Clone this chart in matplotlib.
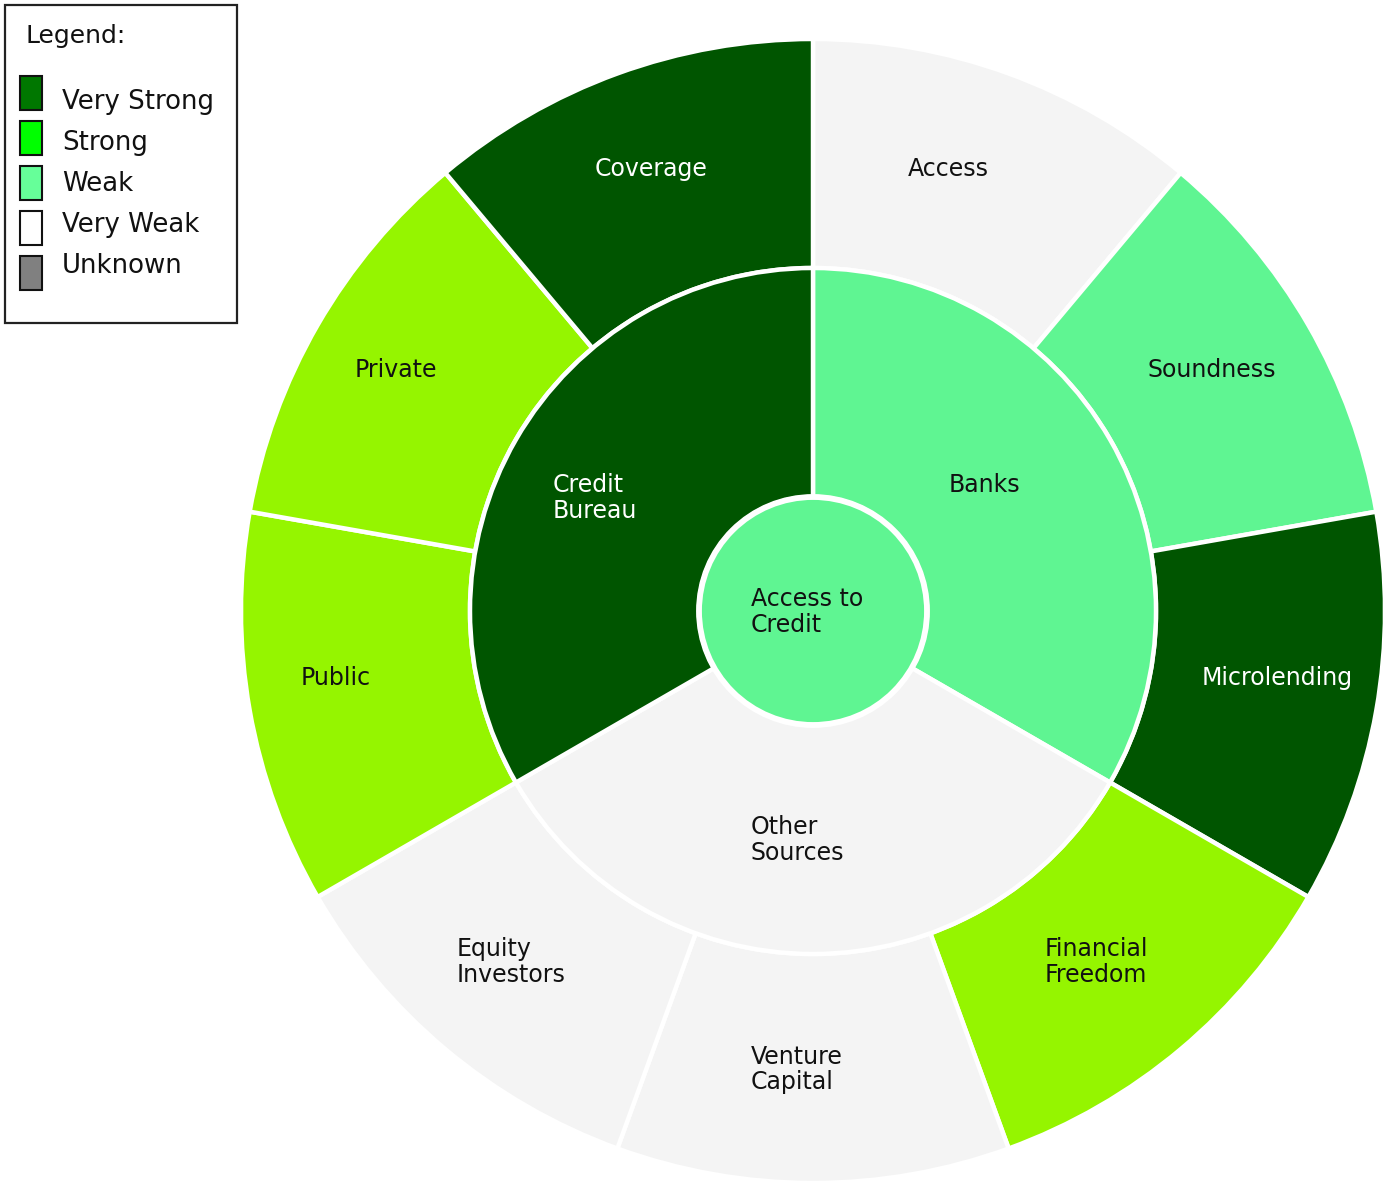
import numpy as np
import matplotlib.pyplot as plt
from matplotlib.patches import Wedge, Circle, Rectangle

# hierarchy: root -> inner ring -> outer ring (clockwise from 12 o'clock)
root_label = "Access to\nCredit"
root_color = "#5ff592"

inner_labels = ["Banks", "Other\nSources", "Credit\nBureau"]
inner_colors = ["#5ff592", "#f4f4f4", "#005500"]

outer_parent = [0, 0, 0, 1, 1, 1, 2, 2, 2]
outer_labels = ["Access", "Soundness", "Microlending",
                "Financial\nFreedom", "Venture\nCapital", "Equity\nInvestors",
                "Public", "Private", "Coverage"]
outer_values = [1, 1, 1, 1, 1, 1, 1, 1, 1]
outer_colors = ["#f4f4f4", "#5ff592", "#005500",
                "#95f500", "#f4f4f4", "#f4f4f4",
                "#95f500", "#95f500", "#005500"]

legend_labels = ["Very Strong", "Strong", "Weak", "Very Weak", "Unknown"]
legend_colors = ["#007700", "#00ff00", "#66ff99", "#ffffff", "#808080"]

W, H = 1387, 1184
fig = plt.figure(figsize=(W / 100, H / 100), dpi=100)
ax = fig.add_axes([0, 0, 1, 1])
ax.set_xlim(0, W)
ax.set_ylim(H, 0)
ax.set_aspect("equal")
ax.axis("off")

cx, cy = 813, 611
r0, r1, r2 = 114, 343, 572
edge_lw = 3.2
font = "DejaVu Sans"
fs = 17


def text_color(c):
    return "white" if c == "#005500" else "#111111"


def put_label(alpha, r, txt, color):
    # alpha: screen angle clockwise from top (degrees)
    a = np.radians(alpha)
    px = cx + r * np.sin(a)
    py = cy - r * np.cos(a)
    ax.text(px - 62, py - 24, txt, ha="left", va="top", fontsize=fs,
            color=text_color(color), family=font, linespacing=1.1)


def draw_wedge(a1, a2, r_out, width, color):
    # data y is inverted, so theta = alpha - 90 runs clockwise on screen
    ax.add_patch(Wedge((cx, cy), r_out, a1 - 90, a2 - 90, width=width,
                       facecolor=color, edgecolor="white", linewidth=edge_lw))


# outer ring
total = sum(outer_values)
bounds = np.concatenate([[0], np.cumsum(outer_values)]) / total * 360
for i, lab in enumerate(outer_labels):
    a1, a2 = bounds[i], bounds[i + 1]
    draw_wedge(a1, a2, r2, r2 - r1, outer_colors[i])
    put_label((a1 + a2) / 2, (r1 + r2) / 2, lab, outer_colors[i])

# inner ring, sized by the sum of its children
inner_values = [sum(v for v, p in zip(outer_values, outer_parent) if p == k)
                for k in range(len(inner_labels))]
ibounds = np.concatenate([[0], np.cumsum(inner_values)]) / total * 360
for k, lab in enumerate(inner_labels):
    a1, a2 = ibounds[k], ibounds[k + 1]
    draw_wedge(a1, a2, r1, r1 - r0, inner_colors[k])
    put_label((a1 + a2) / 2, (r0 + r1) / 2, lab, inner_colors[k])

# centre
ax.add_patch(Circle((cx, cy), r0, facecolor=root_color, edgecolor="white",
                    linewidth=edge_lw + 1))
put_label(0, 0, root_label, root_color)

# legend box
ax.add_patch(Rectangle((5, 5), 232, 318, facecolor="white", edgecolor="#222222",
                       linewidth=1.6))
ax.text(25, 36, "Legend:", ha="left", va="center", fontsize=18, family=font,
        color="#111111")
for i, (lab, col) in enumerate(zip(legend_labels, legend_colors)):
    ax.add_patch(Rectangle((20, 76 + i * 45), 22, 34, facecolor=col,
                           edgecolor="#111111", linewidth=1.5))
    ax.text(62, 102 + i * 41, lab, ha="left", va="center", fontsize=18.7,
            family=font, color="#111111")

fig.savefig("out.png", dpi=100)
